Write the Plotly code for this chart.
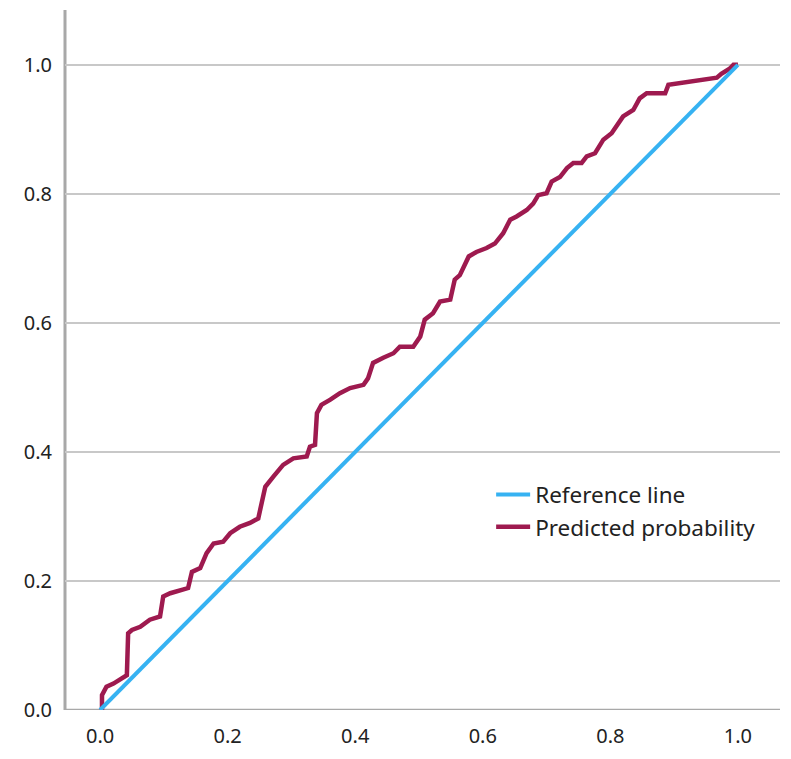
import plotly.graph_objects as go

# Reference diagonal
ref_x = [0.0, 1.0]
ref_y = [0.0, 1.0]

# Predicted probability curve
pred_x = [0.000, 0.003, 0.003, 0.010, 0.021, 0.034, 0.042, 0.044, 0.050, 0.063,
          0.078, 0.094, 0.099, 0.110, 0.125, 0.138, 0.144, 0.157, 0.167, 0.178,
          0.193, 0.204, 0.219, 0.235, 0.248, 0.251, 0.254, 0.259, 0.272, 0.287,
          0.303, 0.324, 0.329, 0.337, 0.340, 0.347, 0.361, 0.376, 0.392, 0.413,
          0.420, 0.428, 0.444, 0.460, 0.470, 0.491, 0.502, 0.509, 0.522, 0.533,
          0.549, 0.556, 0.564, 0.578, 0.590, 0.606, 0.619, 0.632, 0.643, 0.653,
          0.669, 0.679, 0.687, 0.700, 0.708, 0.721, 0.732, 0.742, 0.755, 0.763,
          0.776, 0.789, 0.802, 0.815, 0.820, 0.836, 0.846, 0.857, 0.886, 0.891,
          0.914, 0.940, 0.967, 0.974, 0.987, 0.993, 1.000]
pred_y = [0.000, 0.000, 0.023, 0.036, 0.041, 0.049, 0.054, 0.119, 0.124, 0.129,
          0.140, 0.145, 0.176, 0.181, 0.186, 0.189, 0.214, 0.220, 0.243, 0.258,
          0.261, 0.274, 0.284, 0.290, 0.297, 0.310, 0.326, 0.346, 0.362, 0.380,
          0.390, 0.393, 0.408, 0.411, 0.460, 0.473, 0.481, 0.491, 0.499, 0.504,
          0.514, 0.538, 0.546, 0.553, 0.563, 0.563, 0.579, 0.605, 0.615, 0.633,
          0.636, 0.667, 0.674, 0.703, 0.710, 0.716, 0.723, 0.739, 0.760, 0.765,
          0.775, 0.785, 0.798, 0.801, 0.819, 0.826, 0.840, 0.848, 0.848, 0.858,
          0.863, 0.884, 0.894, 0.912, 0.920, 0.930, 0.948, 0.956, 0.956, 0.969,
          0.972, 0.977, 0.980, 0.986, 0.994, 1.000, 1.000]

x_ticks = [0.0, 0.2, 0.4, 0.6, 0.8, 1.0]
y_ticks = [0.0, 0.2, 0.4, 0.6, 0.8, 1.0]
tick_text = ["0.0", "0.2", "0.4", "0.6", "0.8", "1.0"]

fig = go.Figure()
fig.add_trace(go.Scatter(x=pred_x, y=pred_y, mode="lines", name="Predicted probability",
                         line=dict(color="#9E1A4F", width=4.5)))
fig.add_trace(go.Scatter(x=ref_x, y=ref_y, mode="lines", name="Reference line",
                         line=dict(color="#36B2F2", width=4)))

fig.update_layout(
    width=791, height=759,
    margin=dict(l=65, r=11, t=10, b=49),
    paper_bgcolor="white", plot_bgcolor="white",
    font=dict(family="Noto Sans", size=20, color="#222222"),
    legend=dict(x=0.596, y=0.338, xanchor="left", yanchor="top", traceorder="reversed",
                font=dict(size=22.5), bgcolor="rgba(0,0,0,0)", itemwidth=34,
                tracegroupgap=0),
    showlegend=True,
)
fig.update_xaxes(range=[-0.055, 1.066], tickvals=x_ticks, ticktext=tick_text,
                 showgrid=False, zeroline=False, showline=False, ticks="",
                 ticklabelstandoff=12)
fig.update_yaxes(range=[0.0, 1.085], tickvals=y_ticks, ticktext=tick_text,
                 showgrid=True, gridcolor="#c8c8c8", gridwidth=2,
                 zeroline=False, showline=False, ticks="",
                 ticklabelstandoff=12)
# y-axis line at left and x-axis line at bottom
fig.add_shape(type="line", xref="paper", yref="paper", x0=0, x1=0, y0=0, y1=1,
              line=dict(color="#a8a8a8", width=3), layer="below")
fig.add_shape(type="line", xref="paper", yref="y", x0=0, x1=1, y0=0, y1=0,
              line=dict(color="#a8a8a8", width=2.5), layer="below")

fig.write_html("out.html")
